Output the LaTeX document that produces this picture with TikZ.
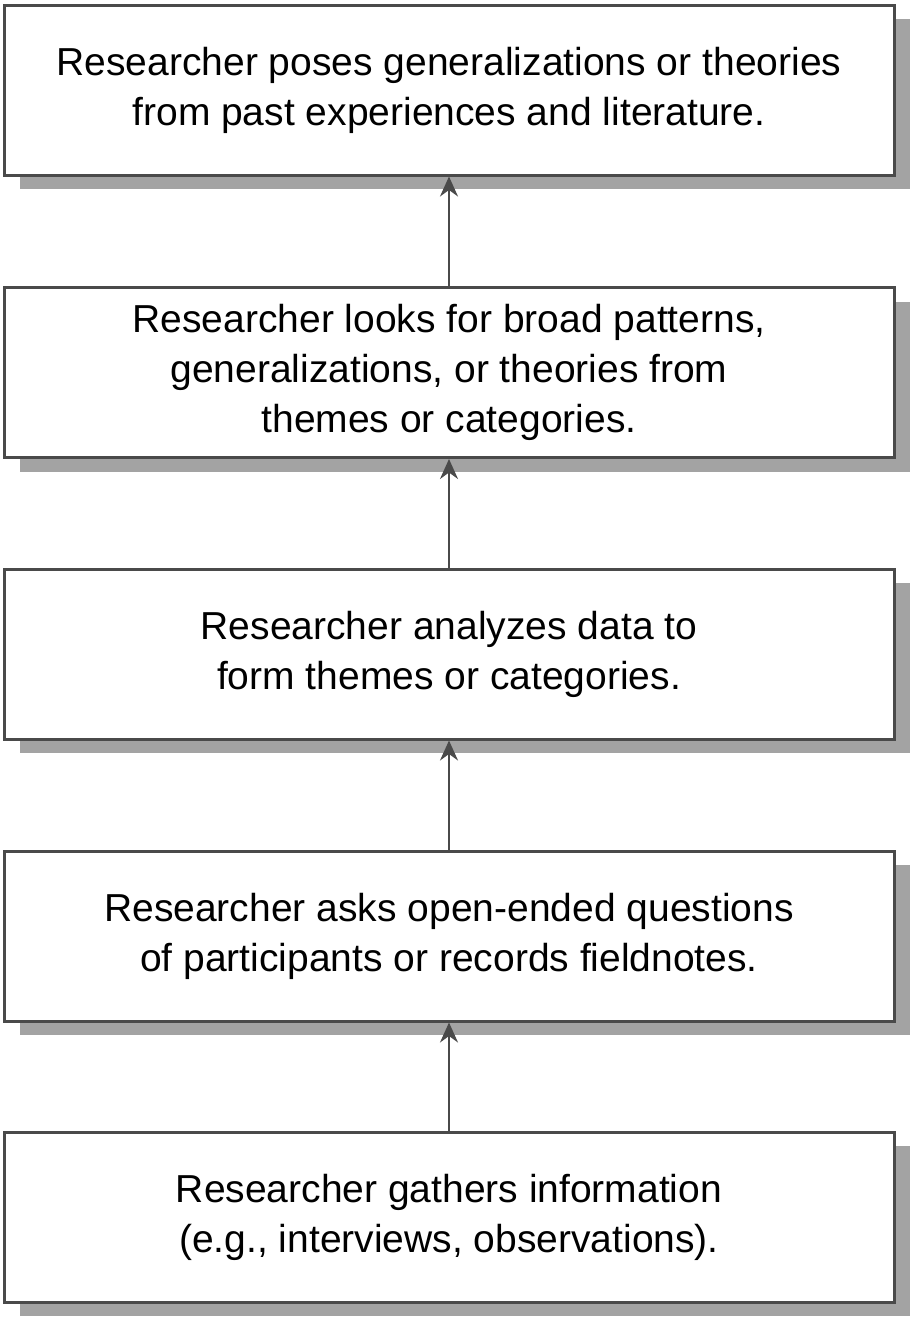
\documentclass[tikz,border=0pt]{standalone}
\usepackage{fontspec}
\setmainfont{Liberation Sans}
\usepackage{tikz}
\usetikzlibrary{shadows,arrows.meta}

\definecolor{boxline}{HTML}{4A4A4A}
\definecolor{shadowgray}{HTML}{A3A3A3}

\begin{document}
\begin{tikzpicture}[x=1pt,y=1pt]
\useasboundingbox (0,0) rectangle (912,-1320);
\begin{scope}[every node/.style={rectangle,draw=boxline,line width=3pt,fill=white,
    minimum width=890pt,minimum height=170pt,align=center,
    font=\fontsize{39}{50}\selectfont,
    drop shadow={shadow xshift=16pt,shadow yshift=-14pt,fill=shadowgray,opacity=1}}]
    \node (theory) at (449,-90) {Researcher poses generalizations or theories\\from past experiences and literature.};
    \node (patterns) at (449,-372.5) {Researcher looks for broad patterns,\\generalizations, or theories from\\themes or categories.};
    \node (themes) at (449,-654) {Researcher analyzes data to\\form themes or categories.};
    \node (questions) at (449,-936) {Researcher asks open-ended questions\\of participants or records fieldnotes.};
    \node (gather) at (449,-1217) {Researcher gathers information\\(e.g., interviews, observations).};
\end{scope}

\draw[boxline,line width=2pt,-{Stealth[length=20pt,width=18pt]}] (gather) -- (questions);
\draw[boxline,line width=2pt,-{Stealth[length=20pt,width=18pt]}] (questions) -- (themes);
\draw[boxline,line width=2pt,-{Stealth[length=20pt,width=18pt]}] (themes) -- (patterns);
\draw[boxline,line width=2pt,-{Stealth[length=20pt,width=18pt]}] (patterns) -- (theory);
\end{tikzpicture}
\end{document}
